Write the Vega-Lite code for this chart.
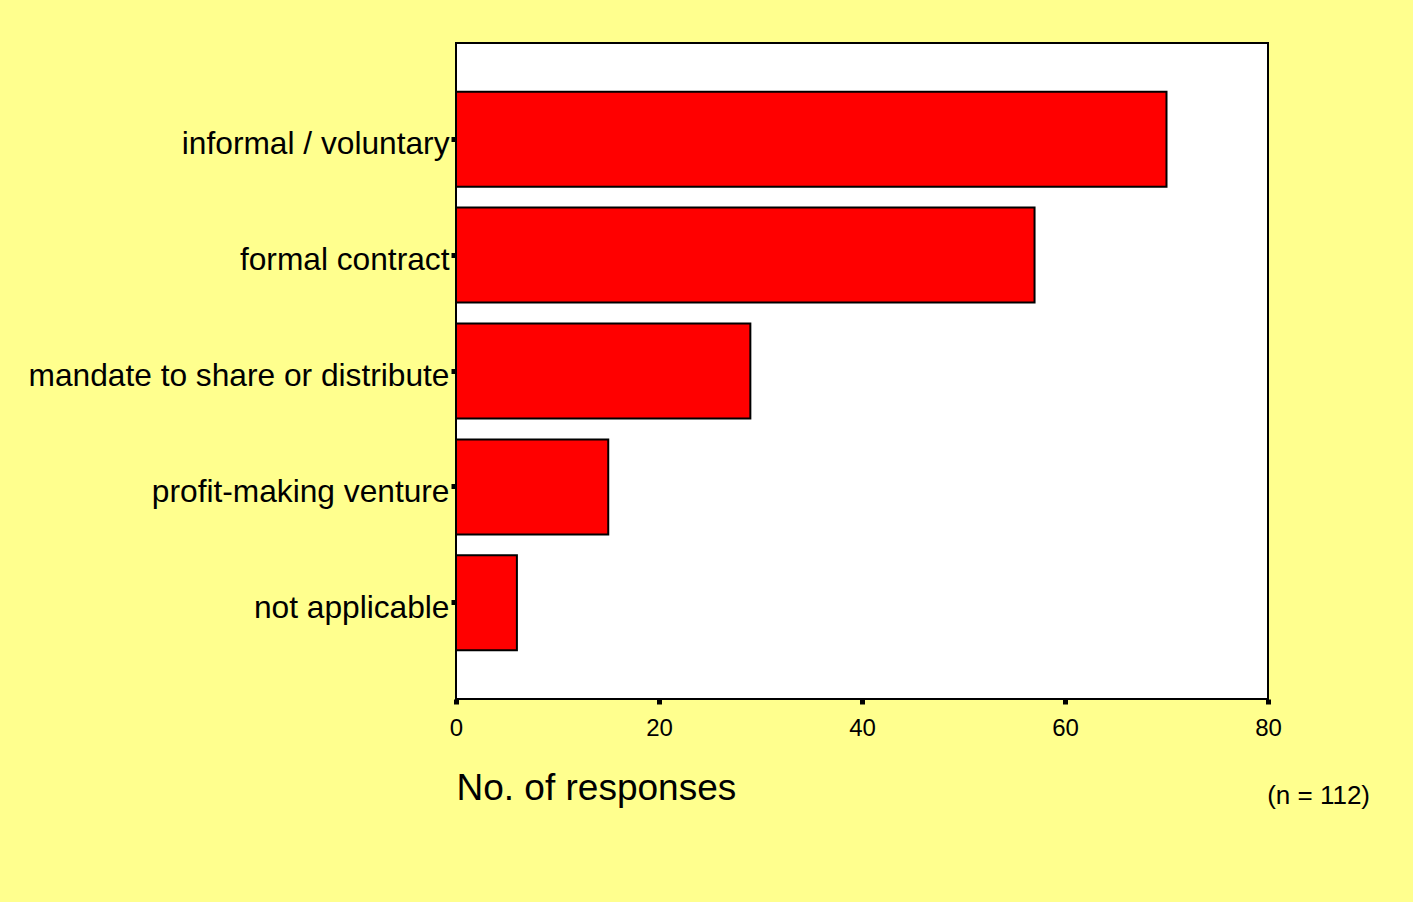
{
  "$schema": "https://vega.github.io/schema/vega-lite/v6.json",
  "autosize": {"type": "none"},
  "padding": {"left": 456, "top": 43, "right": 145, "bottom": 203},
  "width": 812,
  "height": 656,
  "background": "#FFFF8E",
  "data": {
    "values": [
      {"arrangement": "informal / voluntary", "responses": 70},
      {"arrangement": "formal contract", "responses": 57},
      {"arrangement": "mandate to share or distribute", "responses": 29},
      {"arrangement": "profit-making venture", "responses": 15},
      {"arrangement": "not applicable", "responses": 6}
    ]
  },
  "title": {
    "text": "(n = 112)",
    "orient": "bottom",
    "anchor": "end",
    "frame": "group",
    "dx": 102,
    "offset": -23,
    "fontSize": 26,
    "fontWeight": "normal",
    "font": "Liberation Sans",
    "color": "#000000"
  },
  "mark": {"type": "bar", "color": "#FF0000", "stroke": "#000000", "strokeWidth": 2},
  "encoding": {
    "y": {
      "field": "arrangement",
      "type": "nominal",
      "sort": null,
      "title": null,
      "scale": {"paddingInner": 0.18, "paddingOuter": 0.42},
      "axis": {
        "domain": false,
        "labelFontSize": 31.7,
        "labelFont": "Liberation Sans",
        "labelColor": "#000000",
        "labelPadding": 2,
        "labelOffset": 5,
        "tickSize": 5,
        "tickWidth": 5,
        "tickColor": "#000000",
        "labelLimit": 600
      }
    },
    "x": {
      "field": "responses",
      "type": "quantitative",
      "title": "No. of responses",
      "scale": {"domain": [0, 80], "nice": false},
      "axis": {
        "values": [0, 20, 40, 60, 80],
        "grid": false,
        "domain": false,
        "tickSize": 5,
        "tickWidth": 5,
        "tickColor": "#000000",
        "labelFontSize": 24,
        "labelFont": "Liberation Sans",
        "labelColor": "#000000",
        "labelPadding": 12,
        "labelFlush": false,
        "titleFontSize": 37,
        "titleFont": "Liberation Sans",
        "titleFontWeight": "normal",
        "titleColor": "#000000",
        "titleAnchor": "start",
        "titleAlign": "left",
        "titlePadding": 30
      }
    }
  },
  "config": {
    "view": {"fill": "#FFFFFF", "stroke": "#000000", "strokeWidth": 2}
  }
}
